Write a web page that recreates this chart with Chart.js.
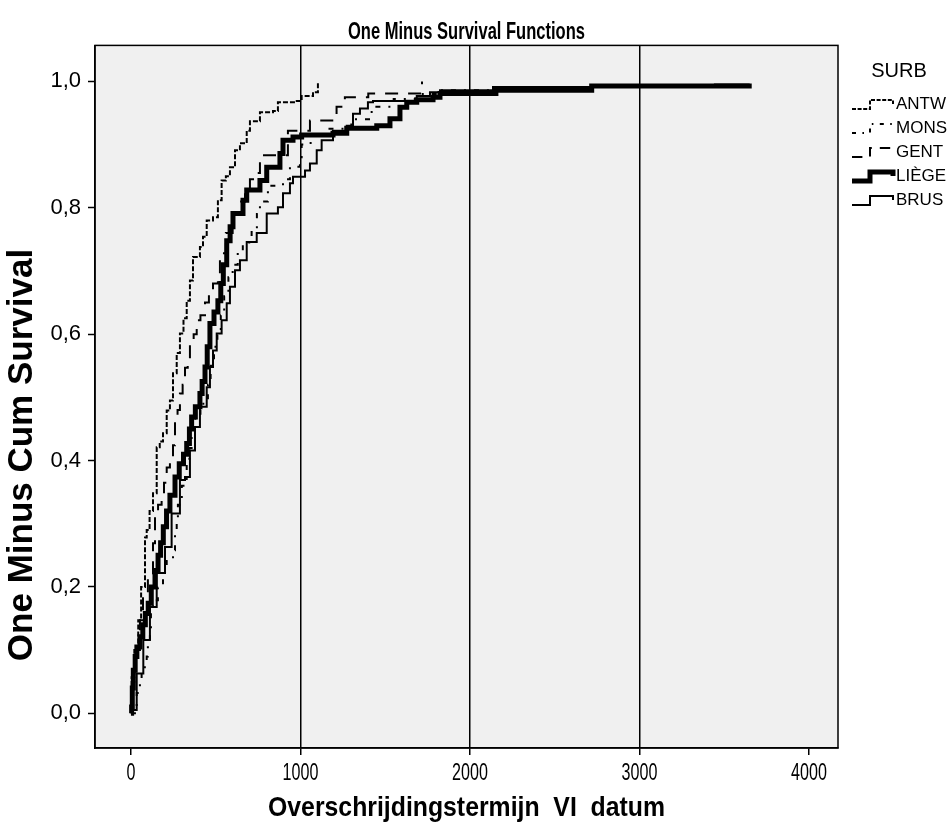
<!DOCTYPE html>
<html>
<head>
<meta charset="utf-8">
<script src="https://cdn.jsdelivr.net/npm/chart.js@4.4.1/dist/chart.umd.min.js"></script>
<style>
  html, body { margin: 0; padding: 0; background: #ffffff; }
  #wrap { width: 952px; height: 824px; position: relative; }
</style>
</head>
<body>
<div id="wrap"><canvas id="c" width="952" height="824"></canvas></div>
<script>
// ---- Data (time in days, one minus cumulative survival) ----
const seriesNames = ["ANTW", "MONS", "GENT", "LIÈGE", "BRUS"];

const antwX = [0, 4, 20, 43, 60, 83, 93, 110, 130, 152, 170, 189, 211, 230, 248, 270, 289, 310, 329, 348, 366, 407, 425, 447, 484, 513, 535, 560, 584, 614, 643, 683, 702, 761, 838, 867, 978, 1007, 1074, 1103];
const antwY = [0, 0.057, 0.1, 0.147, 0.2, 0.278, 0.29, 0.32, 0.348, 0.421, 0.43, 0.443, 0.479, 0.495, 0.538, 0.57, 0.601, 0.625, 0.653, 0.685, 0.722, 0.738, 0.754, 0.78, 0.785, 0.812, 0.843, 0.85, 0.864, 0.891, 0.902, 0.922, 0.937, 0.951, 0.953, 0.967, 0.969, 0.977, 0.983, 0.997];

const monsX = [0, 34, 53, 63, 93, 100, 112, 118, 130, 159, 189, 211, 248, 260, 270, 277, 300, 329, 345, 358, 380, 410, 454, 470, 490, 510, 530, 550, 575, 600, 630, 660, 712, 743, 761, 808, 897, 938, 997, 1007, 1060, 1150, 1300, 1420, 1550, 1700, 1823, 2136, 2706];
const monsY = [0, 0.032, 0.049, 0.073, 0.09, 0.112, 0.136, 0.16, 0.179, 0.199, 0.223, 0.241, 0.258, 0.282, 0.31, 0.33, 0.36, 0.40, 0.42, 0.46, 0.47, 0.49, 0.52, 0.55, 0.58, 0.60, 0.63, 0.66, 0.69, 0.71, 0.73, 0.745, 0.764, 0.79, 0.81, 0.835, 0.845, 0.865, 0.88, 0.90, 0.915, 0.925, 0.94, 0.96, 0.972, 0.98, 0.986, 0.991, 0.992];

const gentX = [0, 10, 30, 53, 71, 100, 130, 142, 160, 181, 195, 211, 230, 248, 260, 275, 289, 305, 319, 335, 348, 370, 388, 410, 437, 460, 484, 513, 525, 560, 600, 643, 673, 702, 743, 761, 926, 1056, 1213, 1262, 1400, 1717];
const gentY = [0, 0.05, 0.1, 0.147, 0.184, 0.22, 0.269, 0.313, 0.33, 0.348, 0.365, 0.389, 0.40, 0.424, 0.468, 0.48, 0.506, 0.52, 0.547, 0.56, 0.585, 0.60, 0.622, 0.63, 0.65, 0.66, 0.68, 0.69, 0.728, 0.76, 0.79, 0.81, 0.83, 0.845, 0.855, 0.883, 0.922, 0.938, 0.96, 0.975, 0.981, 1.0];

const liegeX = [0, 4, 8, 14, 25, 35, 53, 70, 85, 102, 120, 142, 160, 175, 191, 210, 230, 260, 285, 310, 329, 345, 358, 380, 407, 420, 437, 450, 466, 490, 513, 530, 545, 565, 585, 602, 661, 683, 761, 801, 879, 897, 956, 1007, 1192, 1273, 1450, 1528, 1587, 1627, 1686, 1782, 1823, 2153, 2718, 3662];
const liegeY = [0, 0.01, 0.04, 0.068, 0.09, 0.105, 0.121, 0.14, 0.158, 0.174, 0.2, 0.226, 0.25, 0.27, 0.295, 0.32, 0.345, 0.374, 0.395, 0.41, 0.427, 0.45, 0.469, 0.485, 0.506, 0.525, 0.548, 0.58, 0.617, 0.635, 0.653, 0.68, 0.71, 0.748, 0.77, 0.791, 0.812, 0.828, 0.843, 0.864, 0.886, 0.907, 0.912, 0.915, 0.918, 0.926, 0.930, 0.941, 0.959, 0.967, 0.971, 0.975, 0.981, 0.986, 0.9926, 0.9926];

const brusX = [0, 4, 34, 73, 112, 152, 201, 240, 289, 319, 348, 378, 407, 447, 466, 484, 506, 535, 565, 584, 614, 643, 683, 742, 801, 867, 897, 938, 956, 1027, 1056, 1096, 1125, 1192, 1273, 1310, 1351, 1398, 1428, 1587, 1686, 1764, 1823, 2136, 2796, 3445, 3650];
const brusY = [0, 0.005, 0.063, 0.116, 0.168, 0.222, 0.263, 0.316, 0.369, 0.374, 0.416, 0.453, 0.485, 0.516, 0.548, 0.574, 0.601, 0.622, 0.649, 0.675, 0.701, 0.717, 0.746, 0.760, 0.791, 0.801, 0.823, 0.839, 0.849, 0.859, 0.870, 0.891, 0.907, 0.922, 0.930, 0.949, 0.957, 0.967, 0.969, 0.969, 0.977, 0.983, 0.986, 0.991, 0.9937, 0.995, 0.995];

const xTickValues = [0, 1000, 2000, 3000, 4000];
const yTickValues = [0, 0.2, 0.4, 0.6, 0.8, 1.0];
const xGridValues = [1000, 2000, 3000];

const chartTitle = 'One Minus Survival Functions';
const xTitle = 'Overschrijdingstermijn  VI  datum';
const yTitle = 'One Minus Cum Survival';
const legendTitle = 'SURB';

// ---- styling ----
const styles = [
  { width: 2,   dash: [5, 2] },          // ANTW
  { width: 2,   dash: [5, 8, 2, 8] },    // MONS
  { width: 2,   dash: [13, 10] },        // GENT
  { width: 5,   dash: [] },              // LIÈGE
  { width: 2,   dash: [] }               // BRUS
];
const xsAll = [antwX, monsX, gentX, liegeX, brusX];
const ysAll = [antwY, monsY, gentY, liegeY, brusY];

function pts(xs, ys) { return xs.map((x, i) => ({ x: x, y: ys[i] })); }

const datasets = seriesNames.map((name, i) => ({
  label: name,
  data: pts(xsAll[i], ysAll[i]),
  showLine: true,
  stepped: true,
  borderColor: '#000000',
  backgroundColor: '#000000',
  borderWidth: styles[i].width,
  borderDash: styles[i].dash,
  borderCapStyle: 'butt',
  borderJoinStyle: 'miter',
  pointRadius: 0,
  pointHoverRadius: 0,
  fill: false
}));

const PLOT = { left: 95, right: 838, top: 45, bottom: 748 };

// The reference uses condensed lettering for the horizontal titles and the
// x tick labels; render them narrower via the canvas maxWidth argument.
const canvas = document.getElementById('c');
const ctx2d = canvas.getContext('2d');
const origFillText = ctx2d.fillText.bind(ctx2d);
const condenseWidth = {};
condenseWidth[chartTitle] = 237;
condenseWidth[xTitle] = 397;
const xTickLabels = xTickValues.map(v => String(v));
ctx2d.fillText = function (text, x, y, maxWidth) {
  const t = String(text);
  let mw = maxWidth;
  let target;
  if (condenseWidth[t] !== undefined) {
    target = condenseWidth[t];
  } else if (xTickLabels.includes(t)) {
    target = ctx2d.measureText(t).width * 0.7;
  }
  if (target !== undefined) mw = (mw === undefined) ? target : Math.min(mw, target);
  if (mw === undefined) return origFillText(t, x, y);
  return origFillText(t, x, y, mw);
};

const framePlugin = {
  id: 'frame',
  beforeDraw(chart) {
    const { ctx, chartArea: a } = chart;
    ctx.save();
    ctx.fillStyle = '#f0f0f0';
    ctx.fillRect(a.left, a.top, a.right - a.left, a.bottom - a.top);
    ctx.restore();
  },
  afterDraw(chart) {
    const { ctx, chartArea: a } = chart;
    ctx.save();
    ctx.strokeStyle = '#000';
    ctx.lineWidth = 1.5;
    ctx.strokeRect(a.left, a.top, a.right - a.left, a.bottom - a.top);
    // y-axis title
    ctx.fillStyle = '#000';
    ctx.font = 'bold 35px "Liberation Sans", Arial, sans-serif';
    ctx.textAlign = 'center';
    ctx.textBaseline = 'middle';
    ctx.translate(22, 455);
    ctx.rotate(-Math.PI / 2);
    ctx.fillText(yTitle, 0, 0);
    ctx.restore();

    // legend
    ctx.save();
    ctx.fillStyle = '#000';
    ctx.strokeStyle = '#000';
    ctx.font = '20px "Liberation Sans", Arial, sans-serif';
    ctx.textAlign = 'center';
    ctx.textBaseline = 'middle';
    ctx.fillText(legendTitle, 899, 71);
    ctx.font = '17px "Liberation Sans", Arial, sans-serif';
    ctx.textAlign = 'left';
    const rowY = [104, 128, 152, 176, 200];
    seriesNames.forEach((name, i) => {
      const c = rowY[i];
      ctx.lineWidth = styles[i].width;
      ctx.setLineDash(styles[i].dash.map(d => d * 0.8));
      ctx.beginPath();
      ctx.moveTo(852, c + 5);
      ctx.lineTo(870, c + 5);
      ctx.lineTo(870, c - 4);
      ctx.lineTo(893, c - 4);
      ctx.lineTo(893, c);
      ctx.stroke();
      ctx.setLineDash([]);
      ctx.fillText(name, 896, c);
    });
    ctx.restore();
  }
};

new Chart(canvas, {
  type: 'scatter',
  data: { datasets: datasets },
  plugins: [framePlugin],
  options: {
    responsive: false,
    animation: false,
    events: [],
    layout: { padding: { left: 0, right: 952 - PLOT.right, top: 0, bottom: 0 } },
    plugins: {
      legend: { display: false },
      tooltip: { enabled: false },
      title: {
        display: true,
        text: chartTitle,
        fullSize: false,
        color: '#000',
        font: { family: '"Liberation Sans", Arial, sans-serif', size: 24, weight: 'bold', lineHeight: 1.1 },
        padding: { top: 19, bottom: 0 }
      }
    },
    scales: {
      x: {
        type: 'linear',
        min: -212,
        max: 4171,
        afterFit(scale) { scale.height = 824 - PLOT.bottom; },
        afterBuildTicks(scale) { scale.ticks = xTickValues.map(v => ({ value: v })); },
        ticks: {
          color: '#000',
          padding: 5,
          maxRotation: 0,
          font: { family: '"Liberation Sans", Arial, sans-serif', size: 23 },
          callback: v => String(v)
        },
        grid: {
          drawOnChartArea: true,
          drawTicks: true,
          tickLength: 7,
          tickWidth: 1.5,
          tickColor: '#000',
          lineWidth: 1.5,
          color: ctx => (ctx.tick && xGridValues.includes(ctx.tick.value)) ? '#000' : 'rgba(0,0,0,0)'
        },
        border: { display: true, color: '#000', width: 1.5 },
        title: {
          display: true,
          text: xTitle,
          color: '#000',
          font: { family: '"Liberation Sans", Arial, sans-serif', size: 28, weight: 'bold', lineHeight: 1.1 },
          padding: { top: 0, bottom: 0 }
        }
      },
      y: {
        type: 'linear',
        min: -0.055,
        max: 1.057,
        afterFit(scale) { scale.width = PLOT.left; },
        afterBuildTicks(scale) { scale.ticks = yTickValues.map(v => ({ value: v })); },
        ticks: {
          color: '#000',
          padding: 7,
          font: { family: '"Liberation Sans", Arial, sans-serif', size: 22 },
          callback: v => v.toFixed(1).replace('.', ',')
        },
        grid: {
          drawOnChartArea: false,
          drawTicks: true,
          tickLength: 7,
          tickWidth: 1.5,
          tickColor: '#000'
        },
        border: { display: true, color: '#000', width: 1.5 }
      }
    }
  }
});
</script>
</body>
</html>
